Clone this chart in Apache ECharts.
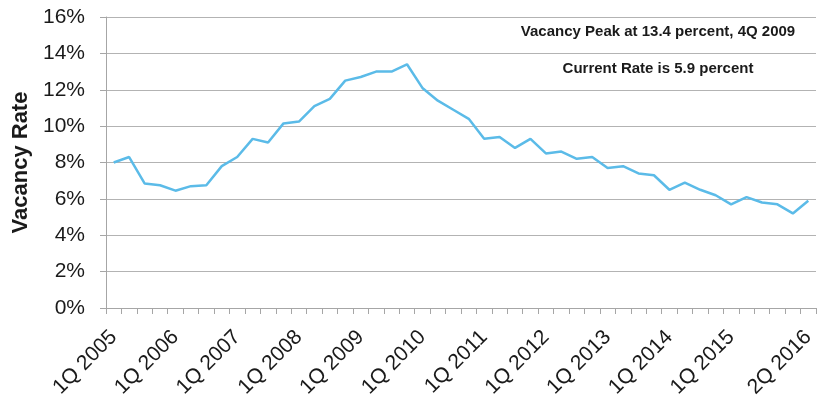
<!DOCTYPE html>
<html>
<head>
<meta charset="utf-8">
<script src="https://cdn.jsdelivr.net/npm/echarts@6/dist/echarts.min.js"></script>
<style>
  html, body { margin: 0; padding: 0; background: #fff; }
  #chart { width: 831px; height: 406px; }
</style>
</head>
<body>
<div id="chart"></div>
<script>
// quarterly vacancy rate, 1Q 2005 .. 2Q 2016
const years = [2005, 2006, 2007, 2008, 2009, 2010, 2011, 2012, 2013, 2014, 2015, 2016]
const quarters = []
years.forEach(y => {
  for (let q = 1; q <= 4; q++) {
    if (y === 2016 && q > 2) break
    quarters.push(q + 'Q ' + y)
  }
})

const vacancyRate = [
  8.0, 8.3, 6.85, 6.75, 6.45, 6.7, 6.75, 7.8,
  8.3, 9.3, 9.1, 10.15, 10.25, 11.1, 11.5, 12.5,
  12.7, 13.0, 13.0, 13.4, 12.1, 11.4, 10.9, 10.4,
  9.3, 9.4, 8.8, 9.3, 8.5, 8.6, 8.2, 8.3,
  7.7, 7.8, 7.4, 7.3, 6.5, 6.9, 6.5, 6.2,
  5.7, 6.1, 5.8, 5.7, 5.2, 5.9
]

const yTicks = [0, 2, 4, 6, 8, 10, 12, 14, 16]
const notes = ['Vacancy Peak at 13.4 percent, 4Q 2009', 'Current Rate is 5.9 percent']

const chart = echarts.init(document.getElementById('chart'))
const font = 'Liberation Sans, Arial, sans-serif'

chart.setOption({
  animation: false,
  grid: { left: 106, right: 15, top: 17, bottom: 98 },
  xAxis: {
    type: 'category',
    data: quarters,
    boundaryGap: true,
    axisLine: { lineStyle: { color: '#a6a6a6', width: 1 } },
    axisTick: { show: true, interval: 0, length: 6, lineStyle: { color: '#a6a6a6' } },
    axisLabel: {
      rotate: 45,
      fontSize: 21,
      fontFamily: font,
      color: '#1a1a1a',
      margin: 26,
      interval: (i) => (i % 4 === 0 && i < 44) || i === quarters.length - 1
    },
    splitLine: { show: false }
  },
  yAxis: {
    type: 'value',
    min: yTicks[0],
    max: yTicks[yTicks.length - 1],
    interval: 2,
    name: 'Vacancy Rate',
    nameLocation: 'middle',
    nameGap: 69,
    nameTextStyle: { fontSize: 22, fontWeight: 'bold', fontFamily: font, color: '#1a1a1a' },
    axisLine: { show: true, lineStyle: { color: '#a6a6a6', width: 1 } },
    axisTick: { show: true, length: 6, lineStyle: { color: '#a6a6a6' } },
    axisLabel: {
      fontSize: 21,
      fontFamily: font,
      color: '#1a1a1a',
      margin: 21,
      formatter: '{value}%'
    },
    splitLine: { lineStyle: { color: '#b3b3b3', width: 1 } }
  },
  graphic: notes.map((t, i) => ({
    type: 'text',
    x: 658,
    y: i === 0 ? 32 : 69,
    style: {
      text: t,
      fontSize: 15,
      fontWeight: 'bold',
      fontFamily: font,
      fill: '#1a1a1a',
      align: 'center',
      verticalAlign: 'middle'
    }
  })),
  series: [{
    type: 'line',
    data: vacancyRate,
    symbol: 'none',
    lineStyle: { color: '#5bbbe8', width: 2.5 }
  }]
})
</script>
</body>
</html>
